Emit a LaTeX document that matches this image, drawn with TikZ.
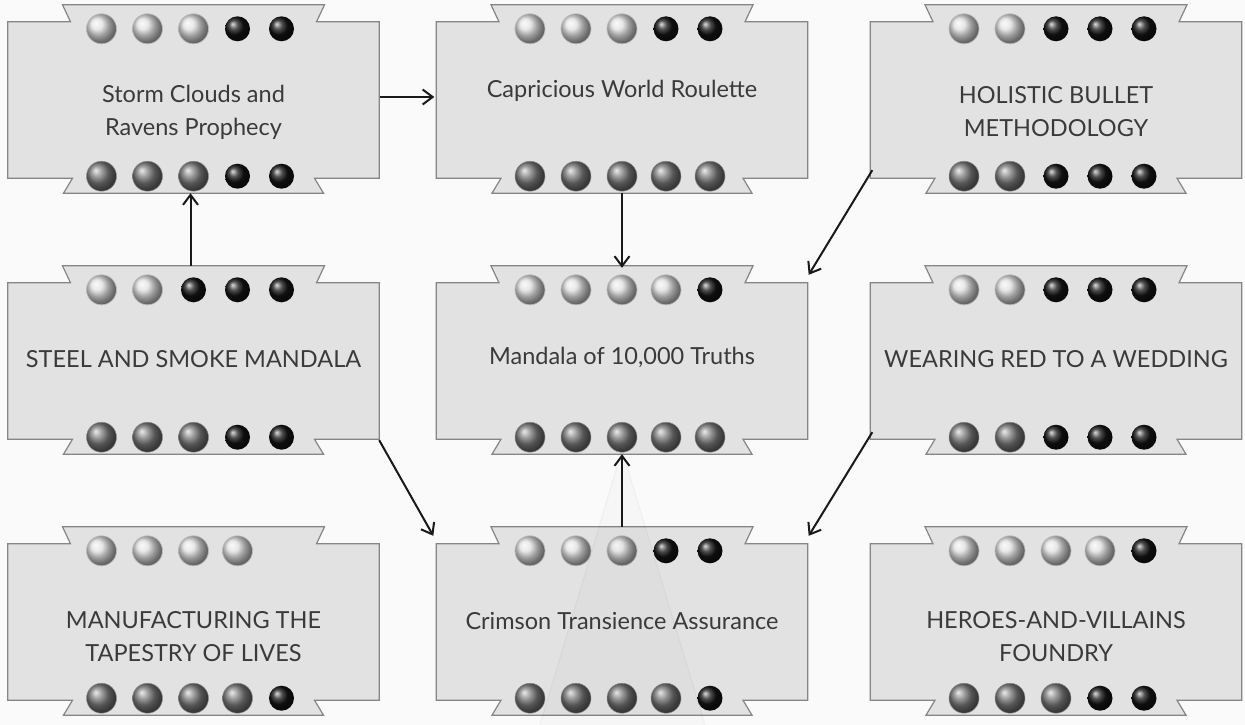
\documentclass[tikz,border=0pt]{standalone}
\usepackage{fontspec}
\newfontfamily\cardfont{Lato}
\usetikzlibrary{arrows.meta}

\definecolor{bgc}{HTML}{FAFAFA}
\definecolor{cardfill}{HTML}{E2E2E2}
\definecolor{cardedge}{HTML}{858585}
\definecolor{inkc}{HTML}{3A3A3A}

\tikzset{
  cardbox/.style={rectangle, minimum width=371pt, minimum height=156pt, inner sep=0pt},
  cardline/.style={draw=cardedge, fill=cardfill, line width=1.2pt, line join=miter},
  lbl/.style={font=\cardfont\fontsize{23.5}{33}\selectfont, text=inkc, align=center, inner sep=0pt},
  dotL/.style={shade, ball color=gray!25, draw=gray!55, line width=0.7pt, radius=15pt},
  dotM/.style={shade, ball color=black!52, draw=black!45, line width=0.5pt, radius=15pt},
  dotB/.style={shade, ball color=black!92, radius=12.5pt},
  link/.style={draw=black!90, line width=2pt, -{Straight Barb[length=10pt,width=15pt,line width=2pt]}},
}

% banner-shaped card outline around a named card node
\newcommand\cardoutline[1]{%
  \path[cardline] (#1.north west) -- ([xshift=-123pt]#1.north)
    -- ([xshift=-131pt,yshift=17pt]#1.north) -- ([xshift=131pt,yshift=17pt]#1.north)
    -- ([xshift=123pt]#1.north) -- (#1.north east) -- (#1.south east)
    -- ([xshift=121pt]#1.south) -- ([xshift=130pt,yshift=-15pt]#1.south)
    -- ([xshift=-130pt,yshift=-15pt]#1.south) -- ([xshift=-121pt]#1.south)
    -- (#1.south west) -- cycle;}

% a row of rating dots: card, anchor (north/south), vertical shift, list of kinds
\newcommand\dotrow[4]{%
  \foreach \k [count=\i] in {#4} {%
    \pgfmathsetmacro\dx{{-92,-46,0,44,88}[\i-1]}%
    \path[dot\k] ([xshift=\dx pt,yshift=#3]#1.#2) circle;
  }}

% one complete card: name, centre, top dots, bottom dots
\newcommand\card[4]{%
  \node[cardbox] (#1) at (#2) {};
  \cardoutline{#1}
  \dotrow{#1}{north}{-7pt}{#3}
  \dotrow{#1}{south}{2pt}{#4}
}

\begin{document}
\begin{tikzpicture}[x=1pt,y=-1pt]
\useasboundingbox (0,0) rectangle (1245,725);
\fill[bgc] (0,0) rectangle (1245,725);

\card{storm}{193.5,100}{L,L,L,B,B}{M,M,M,B,B}
\card{capr}{622,100}{L,L,L,B,B}{M,M,M,M,M}
\card{holi}{1056,100}{L,L,B,B,B}{M,M,B,B,B}
\card{steel}{193.5,361}{L,L,B,B,B}{M,M,M,B,B}
\card{mand}{622,361}{L,L,L,L,B}{M,M,M,M,M}
\card{wear}{1056,361}{L,L,B,B,B}{M,M,B,B,B}
\card{manu}{193.5,622}{L,L,L,L}{M,M,M,M,B}
\card{crim}{622,622}{L,L,L,B,B}{M,M,M,M,B}
\card{hero}{1056,622}{L,L,L,L,B}{M,M,M,B,B}

% faint cone rising behind the lower middle card
\fill[black, opacity=0.015] (622,450) -- (705,725) -- (540,725) -- cycle;
\draw[black, opacity=0.04, line width=1pt] (540,725) -- (622,450) -- (705,725);

\node[lbl] (storm-l) at (193.5,112) {Storm Clouds and\\Ravens Prophecy};
\node[lbl] (capr-l)  at (622,91)  {Capricious World Roulette};
\node[lbl] (holi-l)  at (1056,112) {HOLISTIC BULLET\\METHODOLOGY};
\node[lbl] (steel-l) at (193.5,359) {STEEL AND SMOKE MANDALA};
\node[lbl] (mand-l)  at (622,357) {Mandala of 10,000 Truths};
\node[lbl] (wear-l)  at (1056,359) {WEARING RED TO A WEDDING};
\node[lbl] (manu-l)  at (193.5,637) {MANUFACTURING THE\\TAPESTRY OF LIVES};
\node[lbl] (crim-l)  at (622,621) {Crimson Transience Assurance};
\node[lbl] (hero-l)  at (1056,637) {HEROES-AND-VILLAINS\\FOUNDRY};

% connectors
\draw[link] ([xshift=1pt,yshift=3pt]storm.east) -- ([xshift=-2pt,yshift=3pt]capr.west);
\draw[link] ([xshift=-3pt,yshift=17pt]steel.north) -- ([xshift=-3pt,yshift=-15pt]storm.south);
\draw[link] ([yshift=-15pt]capr.south) -- ([yshift=15pt]mand.north);
\draw[link] ([xshift=2pt,yshift=8pt]holi.south west) -- ([xshift=1pt,yshift=8pt]mand.north east);
\draw[link] ([xshift=0pt,yshift=-1pt]steel.south east) -- ([xshift=-3pt,yshift=8pt]crim.north west);
\draw[link] ([xshift=2pt,yshift=7pt]wear.south west) -- ([xshift=1pt,yshift=8pt]crim.north east);
\draw[link] ([yshift=17pt]crim.north) -- ([yshift=-15pt]mand.south);
\end{tikzpicture}
\end{document}
